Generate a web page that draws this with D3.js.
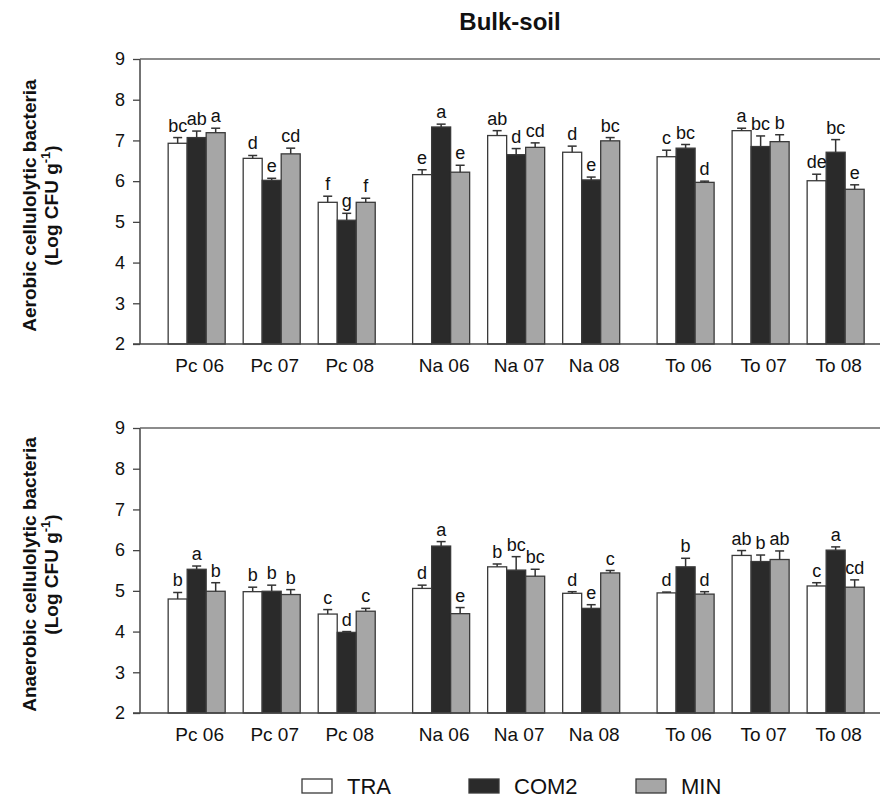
<!DOCTYPE html>
<meta charset="utf-8">
<style>
  body { margin: 0; background: #fff; }
  svg text { font-family: "Liberation Sans", Arial, sans-serif; fill: #111; }
</style>
<svg width="886" height="800"></svg>
<script src="https://d3js.org/d3.v7.min.js"></script>
<script>

// categories
var sites = ["Pc", "Na", "To"],
    years = ["06", "07", "08"],
    series = ["TRA", "COM2", "MIN"];

// aerobic cellulolytic bacteria (top panel)
var aerobicTRA     = [6.93, 6.56, 5.48, 6.16, 7.12, 6.71, 6.60, 7.24, 6.01],
    aerobicTRAerr  = [0.14, 0.07, 0.15, 0.12, 0.12, 0.15, 0.16, 0.06, 0.16],
    aerobicCOM2    = [7.07, 6.02, 5.04, 7.33, 6.65, 6.03, 6.81, 6.85, 6.71],
    aerobicCOM2err = [0.16, 0.05, 0.17, 0.07, 0.15, 0.07, 0.09, 0.26, 0.31],
    aerobicMIN     = [7.19, 6.67, 5.48, 6.22, 6.83, 6.99, 5.97, 6.97, 5.80],
    aerobicMINerr  = [0.11, 0.14, 0.10, 0.17, 0.11, 0.08, 0.03, 0.17, 0.11];
var aerobicTRAlet  = ["bc", "d", "f", "e", "ab", "d", "c", "a", "de"],
    aerobicCOM2let = ["ab", "e", "g", "a", "d", "e", "bc", "bc", "bc"],
    aerobicMINlet  = ["a", "cd", "f", "e", "cd", "bc", "d", "b", "e"];

// anaerobic cellulolytic bacteria (bottom panel)
var anaerobicTRA     = [4.80, 4.98, 4.43, 5.06, 5.59, 4.94, 4.95, 5.87, 5.12],
    anaerobicTRAerr  = [0.16, 0.11, 0.11, 0.08, 0.07, 0.04, 0.02, 0.12, 0.08],
    anaerobicCOM2    = [5.53, 4.99, 3.98, 6.10, 5.51, 4.57, 5.59, 5.72, 6.00],
    anaerobicCOM2err = [0.08, 0.15, 0.02, 0.11, 0.33, 0.09, 0.21, 0.16, 0.08],
    anaerobicMIN     = [4.99, 4.91, 4.50, 4.44, 5.36, 5.44, 4.92, 5.77, 5.09],
    anaerobicMINerr  = [0.21, 0.12, 0.07, 0.15, 0.17, 0.06, 0.06, 0.21, 0.18];
var anaerobicTRAlet  = ["b", "b", "c", "d", "b", "d", "d", "ab", "c"],
    anaerobicCOM2let = ["a", "b", "d", "a", "bc", "e", "b", "b", "a"],
    anaerobicMINlet  = ["b", "b", "c", "e", "bc", "c", "d", "ab", "cd"];

var yTicks = [2, 3, 4, 5, 6, 7, 8, 9];

var fills = {TRA: "#ffffff", COM2: "#2a2a2a", MIN: "#a6a6a6"};

var svg = d3.select("svg");
var x0 = 140, x1 = 880;

// x scales: site -> year -> series
var xSite = d3.scaleBand().domain(sites).range([x0, x1])
    .paddingInner(0.153).paddingOuter(0.09).align(0.64);
var xYear = d3.scaleBand().domain(years).range([0, xSite.bandwidth()])
    .paddingInner(0.24).paddingOuter(0);
var xSer = d3.scaleBand().domain(series).range([0, xYear.bandwidth()]);

function cats() {
  var out = [];
  sites.forEach(function(s) { years.forEach(function(y) { out.push({site: s, year: y}); }); });
  return out;
}

var panels = [
  {top: 59, bottom: 344,
   vals: [aerobicTRA, aerobicCOM2, aerobicMIN],
   errs: [aerobicTRAerr, aerobicCOM2err, aerobicMINerr],
   lets: [aerobicTRAlet, aerobicCOM2let, aerobicMINlet],
   title: "Aerobic cellulolytic bacteria"},
  {top: 428, bottom: 713,
   vals: [anaerobicTRA, anaerobicCOM2, anaerobicMIN],
   errs: [anaerobicTRAerr, anaerobicCOM2err, anaerobicMINerr],
   lets: [anaerobicTRAlet, anaerobicCOM2let, anaerobicMINlet],
   title: "Anaerobic cellulolytic bacteria"}
];

panels.forEach(function(p) {
  var y = d3.scaleLinear().domain([2, 9]).range([p.bottom, p.top]);
  var g = svg.append("g");

  // flatten data
  var rows = [];
  cats().forEach(function(c, i) {
    series.forEach(function(s, k) {
      rows.push({site: c.site, year: c.year, ser: s,
                 v: p.vals[k][i], e: p.errs[k][i], l: p.lets[k][i]});
    });
  });
  function bx(d) { return xSite(d.site) + xYear(d.year) + xSer(d.ser); }

  // bars
  g.selectAll("rect.bar").data(rows).enter().append("rect")
    .attr("class", "bar")
    .attr("x", bx)
    .attr("y", function(d) { return y(d.v); })
    .attr("width", xSer.bandwidth())
    .attr("height", function(d) { return y(2) - y(d.v); })
    .attr("fill", function(d) { return fills[d.ser]; })
    .attr("stroke", "#3a3a3a")
    .attr("stroke-width", 1.3);

  // error bars (upper only)
  var eb = g.selectAll("g.err").data(rows).enter().append("g").attr("class", "err")
    .attr("stroke", "#333").attr("stroke-width", 1.5);
  eb.append("line")
    .attr("x1", function(d) { return bx(d) + xSer.bandwidth() / 2; })
    .attr("x2", function(d) { return bx(d) + xSer.bandwidth() / 2; })
    .attr("y1", function(d) { return y(d.v); })
    .attr("y2", function(d) { return y(d.v + d.e); });
  eb.append("line")
    .attr("x1", function(d) { return bx(d) + xSer.bandwidth() / 2 - 4.5; })
    .attr("x2", function(d) { return bx(d) + xSer.bandwidth() / 2 + 4.5; })
    .attr("y1", function(d) { return y(d.v + d.e); })
    .attr("y2", function(d) { return y(d.v + d.e); });

  // significance letters
  g.selectAll("text.let").data(rows).enter().append("text")
    .attr("class", "let")
    .attr("x", function(d) { return bx(d) + xSer.bandwidth() / 2; })
    .attr("y", function(d) { return y(d.v + d.e) - 6; })
    .attr("text-anchor", "middle")
    .style("font-size", "18px")
    .text(function(d) { return d.l; });

  // axes
  var ax = g.append("g").attr("transform", "translate(" + x0 + ",0)")
    .call(d3.axisLeft(y).tickValues(yTicks).tickSize(7).tickPadding(8).tickFormat(d3.format("d")));
  ax.select(".domain").remove();
  ax.selectAll("line").attr("stroke", "#444").attr("stroke-width", 1.3);
  ax.selectAll("text").style("font-size", "18px").attr("fill", "#111");

  g.append("line").attr("x1", x0).attr("x2", x0).attr("y1", p.top).attr("y2", p.bottom)
    .attr("stroke", "#444").attr("stroke-width", 1.5);
  g.append("line").attr("x1", x0).attr("x2", x1).attr("y1", p.top).attr("y2", p.top)
    .attr("stroke", "#666").attr("stroke-width", 1.5);
  g.append("line").attr("x1", x0 - 7).attr("x2", x1).attr("y1", p.bottom).attr("y2", p.bottom)
    .attr("stroke", "#444").attr("stroke-width", 1.5);

  // category labels
  g.selectAll("text.cat").data(cats()).enter().append("text")
    .attr("class", "cat")
    .attr("x", function(d) { return xSite(d.site) + xYear(d.year) + xYear.bandwidth() / 2 + 3; })
    .attr("y", p.bottom + 28)
    .attr("text-anchor", "middle")
    .style("font-size", "19px")
    .text(function(d) { return d.site + " " + d.year; });

  // y title
  var cy = (p.top + p.bottom) / 2 + 4;
  var t = g.append("text")
    .attr("transform", "translate(36," + cy + ") rotate(-90)")
    .attr("text-anchor", "middle")
    .style("font-size", "19px").style("font-weight", "bold");
  t.append("tspan").attr("x", 0).attr("y", 0).text(p.title);
  var t2 = g.append("text")
    .attr("transform", "translate(58," + cy + ") rotate(-90)")
    .attr("text-anchor", "middle")
    .style("font-size", "19px").style("font-weight", "bold");
  t2.append("tspan").text("(Log CFU g");
  t2.append("tspan").attr("dy", -8).style("font-size", "13px").text("-1");
  t2.append("tspan").attr("dy", 8).text(")");
});

// title
svg.append("text")
  .attr("x", 510).attr("y", 30)
  .attr("text-anchor", "middle")
  .style("font-size", "24px").style("font-weight", "bold")
  .text("Bulk-soil");

// legend
var leg = svg.append("g").selectAll("g").data(series).enter().append("g")
  .attr("transform", function(d, i) { return "translate(" + (302 + i * 167) + ",779)"; });
leg.append("rect")
  .attr("width", 30).attr("height", 14)
  .attr("fill", function(d) { return fills[d]; })
  .attr("stroke", "#3a3a3a").attr("stroke-width", 1.3);
leg.append("text")
  .attr("x", 45).attr("y", 15)
  .style("font-size", "22px")
  .text(function(d) { return d; });

</script>
